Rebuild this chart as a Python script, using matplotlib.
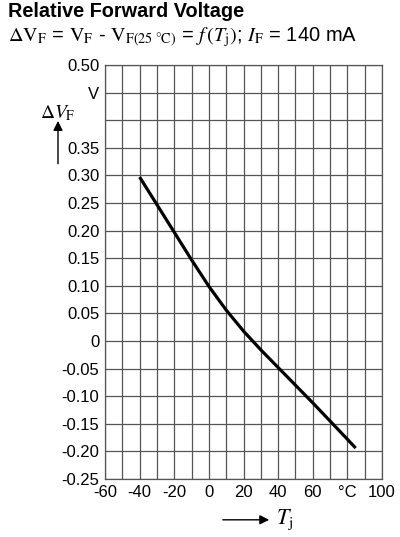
import matplotlib.pyplot as plt
import numpy as np

plt.rcParams['font.family'] = ['Liberation Sans', 'DejaVu Sans']
plt.rcParams['mathtext.fontset'] = 'stix'

# curve: junction temperature [°C] vs. delta V_F [V]
tj = [-40, -30, -20, -10, 0, 10, 20, 30, 40, 50, 60, 70, 80, 84.8]
dvf = [0.297, 0.247, 0.197, 0.147, 0.099, 0.056, 0.018, -0.016, -0.048, -0.080,
       -0.112, -0.145, -0.178, -0.194]

xticks = np.arange(-60, 101, 10)
xlabels = ['-60', '', '-40', '', '-20', '', '0', '', '20', '', '40', '', '60', '', '°C', '', '100']
yticks = np.arange(-0.25, 0.501, 0.05)
ylabels = ['-0.25', '-0.20', '-0.15', '-0.10', '-0.05', '0', '0.05', '0.10', '0.15',
           '0.20', '0.25', '0.30', '0.35', '', 'V', '0.50']

fig = plt.figure(figsize=(4.0, 5.37), dpi=100)
ax = fig.add_axes([0.2625, 0.108, 0.6925, 0.771])

ax.plot(tj, dvf, color='black', linewidth=2.3, solid_capstyle='butt', solid_joinstyle='round')

ax.set_xlim(-60, 100)
ax.set_ylim(-0.25, 0.50)
ax.set_xticks(xticks)
ax.set_xticklabels(xlabels, fontsize=12)
ax.set_yticks(yticks)
ax.set_yticklabels(ylabels, fontsize=12)
ax.tick_params(length=0, pad=4)
ax.grid(True, color='#555555', linewidth=0.9)
for s in ax.spines.values():
    s.set_color('#555555')
    s.set_linewidth(0.9)

fig.text(0.02, 0.978, 'Relative Forward Voltage', fontsize=14.3, fontweight='bold', va='center')
fig.text(0.02, 0.931,
         r'$\Delta\mathrm{V}_\mathrm{F}$ = $\mathrm{V}_\mathrm{F}$ - $\mathrm{V}_{\mathrm{F(25\ °C)}}$'
         r' = $f\,(T_\mathrm{j})$; $I_\mathrm{F}$ = 140 mA',
         fontsize=14.5, va='center')

# axis captions with arrows
fig.text(0.145, 0.79, r'$\Delta V_\mathrm{F}$', fontsize=14, ha='center', va='center')
ax.annotate('', xy=(0.145, 0.78), xytext=(0.145, 0.69), xycoords='figure fraction',
            annotation_clip=False,
            arrowprops=dict(arrowstyle='-|>', color='black', lw=1, mutation_scale=14))
ax.annotate('', xy=(0.68, 0.032), xytext=(0.55, 0.032), xycoords='figure fraction',
            annotation_clip=False,
            arrowprops=dict(arrowstyle='-|>', color='black', lw=1, mutation_scale=14))
fig.text(0.69, 0.032, r'$T_\mathrm{j}$', fontsize=16, va='center')

plt.savefig('out.png', dpi=100)
